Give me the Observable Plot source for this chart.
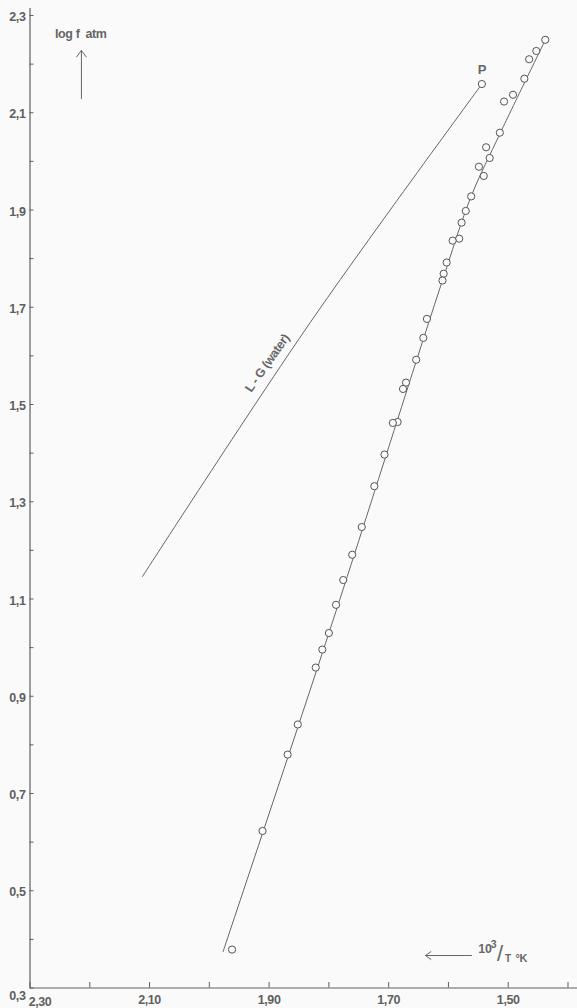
<!DOCTYPE html>
<html>
<head>
<meta charset="utf-8">
<script src="https://cdn.jsdelivr.net/npm/d3@7"></script>
<script src="https://cdn.jsdelivr.net/npm/@observablehq/plot@0.6"></script>
<style>
html, body { margin: 0; padding: 0; background: #fafafa; }
#chart svg { display: block; }
#chart svg text { letter-spacing: -0.4px; }
</style>
</head>
<body>
<div id="chart"></div>
<script>
// measured points: 10^3/T (x) and log f (y)
const invT = [1.438, 1.453, 1.465, 1.473, 1.492, 1.507, 1.514, 1.537, 1.531, 1.549,
              1.541, 1.562, 1.571, 1.578, 1.582, 1.593, 1.603, 1.608, 1.610, 1.636,
              1.642, 1.654, 1.671, 1.676, 1.685, 1.693, 1.707, 1.724, 1.745, 1.761,
              1.776, 1.788, 1.800, 1.811, 1.822, 1.852, 1.869, 1.911, 1.962];
const logF = [2.250, 2.227, 2.210, 2.170, 2.137, 2.123, 2.059, 2.029, 2.007, 1.989,
              1.970, 1.928, 1.898, 1.874, 1.841, 1.837, 1.792, 1.769, 1.755, 1.676,
              1.637, 1.592, 1.545, 1.532, 1.464, 1.462, 1.397, 1.332, 1.248, 1.191,
              1.139, 1.088, 1.030, 0.996, 0.959, 0.842, 0.780, 0.623, 0.379];

// drawn curve through the measurements
const fitX = [1.977, 1.800, 1.610, 1.562, 1.513, 1.435];
const fitY = [0.375, 1.030, 1.755, 1.928, 2.059, 2.257];

// liquid-gas line of water, ending at critical point P
const waterX = [2.112, 1.831, 1.544];
const waterY = [1.146, 1.669, 2.159];

// axes
const xTicks = [2.30, 2.20, 2.10, 2.00, 1.90, 1.80, 1.70, 1.60, 1.50, 1.40];
const xLabelValues = [2.30, 2.10, 1.90, 1.70, 1.50];
const xTickLabels = ["2,30", "2,10", "1,90", "1,70", "1,50"];
const yTicks = [0.3, 0.4, 0.5, 0.6, 0.7, 0.8, 0.9, 1.0, 1.1, 1.2, 1.3, 1.4, 1.5, 1.6, 1.7, 1.8, 1.9, 2.0, 2.1, 2.2, 2.3];
const yLabelValues = [2.3, 2.1, 1.9, 1.7, 1.5, 1.3, 1.1, 0.9, 0.7, 0.5, 0.3];
const yTickLabels = ["2,3", "2,1", "1,9", "1,7", "1,5", "1,3", "1,1", "0,9", "0,7", "0,5", "0,3"];

const W = 577, H = 1008;
const mL = 29.5, mR = 0, mT = 8, mB = 20.5;
const xDomain = [2.30, 1.3841];
const yDomain = [0.3, 2.3144];
const kx = (W - mL - mR) / (xDomain[0] - xDomain[1]);
const ky = (H - mT - mB) / (yDomain[1] - yDomain[0]);

const points = invT.map((x, i) => ({x, y: logF[i]}));
const fit = fitX.map((x, i) => ({x, y: fitY[i]}));
const water = waterX.map((x, i) => ({x, y: waterY[i]}));
const P = water[water.length - 1];

const ink = "#5f5f5f";
const font = "Liberation Sans, Arial, sans-serif";

const plot = Plot.plot({
  width: W,
  height: H,
  marginLeft: mL,
  marginRight: mR,
  marginTop: mT,
  marginBottom: mB,
  x: {domain: xDomain, axis: null},
  y: {domain: yDomain, axis: null},
  style: {background: "#fafafa", fontFamily: font, color: ink, overflow: "visible"},
  marks: [
    // axis lines
    Plot.ruleY([yDomain[0]], {stroke: ink, strokeWidth: 1.2}),
    Plot.ruleX([xDomain[0]], {stroke: ink, strokeWidth: 1.2}),
    // inward ticks
    Plot.ruleX(xTicks, {y1: yDomain[0], y2: yDomain[0] + 5.5 / ky, stroke: ink, strokeWidth: 1}),
    Plot.ruleY(yTicks, {x1: xDomain[0], x2: xDomain[0] - 4 / kx, stroke: ink, strokeWidth: 1}),
    // tick labels
    Plot.text(xLabelValues.slice(1), {x: d => d, y: yDomain[0], text: (d, i) => xTickLabels[i + 1],
      dy: 11.5, fontSize: 12.5, fontWeight: "bold", fill: ink}),
    Plot.text(xLabelValues.slice(0, 1), {x: d => d, y: yDomain[0], text: (d, i) => xTickLabels[i],
      dy: 13.5, dx: 10, fontSize: 12.5, fontWeight: "bold", fill: ink}),
    Plot.text(yLabelValues.slice(0, -1), {x: xDomain[0], y: d => d, text: (d, i) => yTickLabels[i],
      dx: -4.5, dy: 1.5, textAnchor: "end", fontSize: 12.5, fontWeight: "bold", fill: ink}),
    Plot.text(yLabelValues.slice(-1), {x: xDomain[0], y: d => d, text: (d, i) => yTickLabels[yTickLabels.length - 1],
      dx: -4.5, dy: 8, textAnchor: "end", fontSize: 12.5, fontWeight: "bold", fill: ink}),

    // water L-G line
    Plot.line(water, {x: "x", y: "y", curve: "catmull-rom", stroke: "#666", strokeWidth: 1}),
    Plot.text([{x: 1.903, y: 1.585}], {x: "x", y: "y", text: () => "L - G (water)", rotate: -55,
      fontSize: 12.5, fontWeight: "bold", fill: "#666"}),
    Plot.text([P], {x: "x", y: "y", text: () => "P", dy: -14, fontSize: 13, fontWeight: "bold", fill: "#666"}),
    Plot.dot([P], {x: "x", y: "y", r: 3.6, stroke: "#555", fill: "#fafafa", strokeWidth: 1}),

    // fitted curve and measurements
    Plot.line(fit, {x: "x", y: "y", curve: "catmull-rom", stroke: "#666", strokeWidth: 1}),
    Plot.dot(points, {x: "x", y: "y", r: 3.6, stroke: "#555", fill: "#fafafa", strokeWidth: 1}),

    // y-axis annotation
    Plot.text([{x: 2.215, y: 2.262}], {x: "x", y: "y", text: () => "log f  atm", fontSize: 12.5,
      fontWeight: "bold", fill: "#666"}),
    Plot.arrow([{x: 2.214, y1: 2.129, y2: 2.228}], {x1: "x", x2: "x", y1: "y1", y2: "y2",
      stroke: "#666", strokeWidth: 1, headLength: 12, headAngle: 74}),

    // x-axis annotation
    Plot.arrow([{x1: 1.5614, x2: 1.6383, y: 0.3668}], {x1: "x1", x2: "x2", y1: "y", y2: "y",
      stroke: "#666", strokeWidth: 1, headLength: 10, headAngle: 72}),
    Plot.text([{x: 1.539, y: 0.380}], {x: "x", y: "y", text: () => "10", fontSize: 12.5, fontWeight: "bold", fill: "#666"}),
    Plot.text([{x: 1.5245, y: 0.389}], {x: "x", y: "y", text: () => "3", fontSize: 10.5, fontWeight: "bold", fill: "#666"}),
    Plot.text([{x: 1.5140, y: 0.371}], {x: "x", y: "y", text: () => "/", fontSize: 22, fill: "#666"}),
    Plot.text([{x: 1.5004, y: 0.3596}], {x: "x", y: "y", text: () => "T", fontSize: 10, fontWeight: "bold", fill: "#666"}),
    Plot.text([{x: 1.4780, y: 0.3617}], {x: "x", y: "y", text: () => "°K", fontSize: 11, fontWeight: "bold", fill: "#666"})
  ]
});

document.getElementById("chart").appendChild(plot);
</script>
</body>
</html>
